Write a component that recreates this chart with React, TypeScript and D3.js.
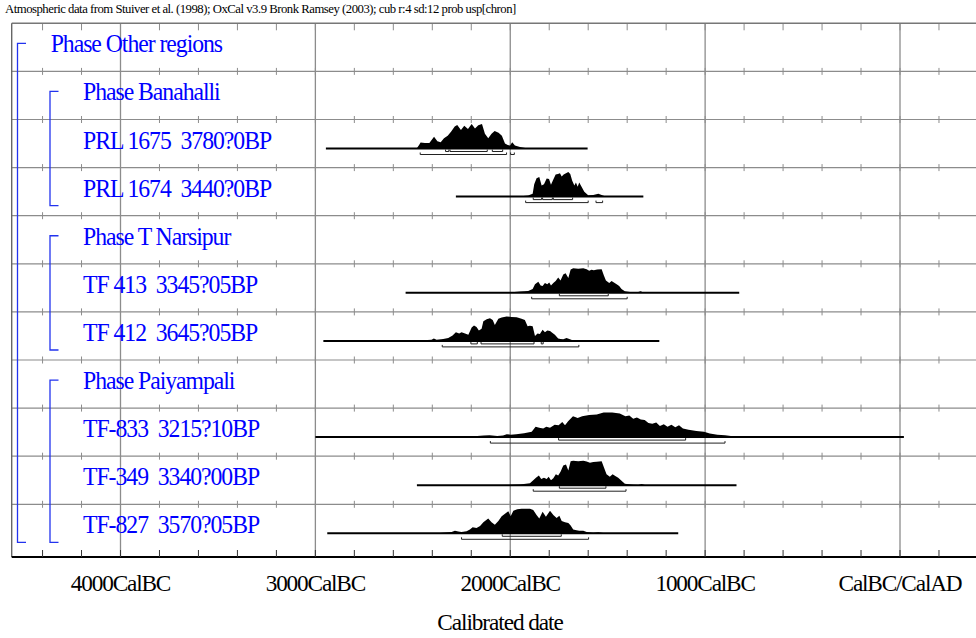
import React, { useEffect, useRef } from 'react';
import * as d3 from 'd3';

// rows of the plot, top to bottom
const rowLabels = [
  'Phase Other regions',
  'Phase Banahalli',
  'PRL 1675  3780?0BP',
  'PRL 1674  3440?0BP',
  'Phase T Narsipur',
  'TF 413  3345?05BP',
  'TF 412  3645?05BP',
  'Phase Paiyampali',
  'TF-833  3215?10BP',
  'TF-349  3340?00BP',
  'TF-827  3570?05BP',
];
const rowIndent = [0, 1, 1, 1, 1, 1, 1, 1, 1, 1, 1];

// phase brackets: first row, last row, nesting level
const phaseBrackets: [number, number, number][] = [
  [0, 10, 0],
  [1, 3, 1],
  [4, 6, 1],
  [7, 10, 1],
];

// years BC (negative = AD)
const majorTicks = [4000, 3000, 2000, 1000, 0];
const majorTickLabels = ['4000CalBC', '3000CalBC', '2000CalBC', '1000CalBC', 'CalBC/CalAD'];
const minorTicks = [4400, 4200, 4000, 3800, 3600, 3400, 3200, 3000, 2800, 2600, 2400, 2200, 2000,
  1800, 1600, 1400, 1200, 1000, 800, 600, 400, 200, 0, -200];

const headerText = 'Atmospheric data from Stuiver et al. (1998); OxCal v3.9 Bronk Ramsey (2003); cub r:4 sd:12 prob usp[chron]';
const xAxisTitle = 'Calibrated date';

// calibrated probability (year BC, relative height)
const prl1675Prob: [number, number][] = [
  [2480, 0], [2467, 0.15], [2460, 0.24], [2438, 0.22], [2415, 0.22], [2391, 0.48], [2374, 0.3],
  [2357, 0.26], [2340, 0.42], [2321, 0.52], [2304, 0.68], [2285, 0.9], [2272, 0.96], [2253, 0.76],
  [2236, 0.93], [2217, 0.8], [2198, 1], [2181, 0.82], [2164, 0.95], [2145, 1], [2130, 0.6],
  [2113, 0.42], [2096, 0.6], [2080, 0.71], [2060, 0.64], [2043, 0.52], [2027, 0.2], [2013, 0.14],
  [2001, 0.12], [1990, 0.26], [1976, 0.12], [1950, 0.06], [1916, 0.01], [1882, 0],
];
const prl1674Prob: [number, number][] = [
  [1967, 0], [1933, 0.02], [1908, 0.05], [1885, 0.12], [1877, 0.5], [1865, 0.75], [1851, 0.8],
  [1839, 0.45], [1827, 0.5], [1813, 0.74], [1801, 0.72], [1791, 0.48], [1779, 0.7], [1767, 0.9],
  [1755, 0.92], [1745, 0.95], [1736, 0.82], [1726, 0.9], [1714, 0.95], [1702, 1], [1692, 0.92],
  [1682, 0.65], [1671, 0.45], [1663, 0.58], [1654, 0.4], [1646, 0.58], [1634, 0.4], [1620, 0.2],
  [1600, 0.06], [1574, 0.07], [1548, 0.12], [1531, 0.07], [1514, 0.01], [1497, 0],
];
const tf413Prob: [number, number][] = [
  [2019, 0], [1993, 0.02], [1950, 0.05], [1908, 0.07], [1885, 0.15], [1873, 0.35], [1856, 0.45],
  [1844, 0.3], [1834, 0.28], [1822, 0.4], [1810, 0.35], [1800, 0.42], [1791, 0.3], [1779, 0.4],
  [1767, 0.48], [1754, 0.62], [1742, 0.5], [1728, 0.75], [1716, 0.8], [1702, 0.6], [1690, 0.95],
  [1677, 1], [1651, 0.98], [1625, 1], [1608, 0.96], [1595, 0.9], [1583, 0.94], [1571, 0.92],
  [1554, 0.95], [1531, 0.96], [1519, 0.7], [1509, 0.5], [1492, 0.4], [1480, 0.48], [1468, 0.42],
  [1454, 0.35], [1441, 0.28], [1429, 0.15], [1412, 0.06], [1377, 0.02], [1352, 0.01], [1331, 0.06],
  [1317, 0.01], [1292, 0],
];
const tf412Prob: [number, number][] = [
  [2480, 0], [2446, 0.03], [2404, 0.05], [2392, 0.1], [2378, 0.05], [2344, 0.08], [2318, 0.12],
  [2296, 0.22], [2279, 0.35], [2262, 0.3], [2250, 0.35], [2232, 0.3], [2215, 0.25], [2198, 0.55],
  [2186, 0.63], [2173, 0.57], [2161, 0.42], [2147, 0.5], [2138, 0.8], [2121, 0.88], [2104, 0.92],
  [2090, 0.85], [2079, 0.65], [2061, 0.9], [2044, 0.95], [2019, 1], [1993, 0.98], [1967, 0.97],
  [1942, 0.9], [1925, 0.85], [1911, 0.6], [1899, 0.62], [1885, 0.6], [1873, 0.2], [1860, 0.3],
  [1848, 0.28], [1834, 0.45], [1822, 0.35], [1810, 0.42], [1796, 0.4], [1783, 0.32], [1771, 0.25],
  [1754, 0.1], [1742, 0.08], [1728, 0.07], [1711, 0.12], [1697, 0.08], [1677, 0.02], [1642, 0],
];
const tf833Prob: [number, number][] = [
  [2440, 0], [2283, 0.01], [2204, 0.02], [2136, 0.07], [2106, 0.08], [2067, 0.05], [2037, 0.07],
  [2018, 0.12], [1998, 0.1], [1969, 0.12], [1929, 0.16], [1890, 0.22], [1870, 0.42], [1851, 0.38],
  [1831, 0.35], [1815, 0.42], [1796, 0.38], [1772, 0.5], [1752, 0.48], [1733, 0.62], [1719, 0.48],
  [1703, 0.65], [1678, 0.85], [1654, 0.78], [1631, 0.85], [1595, 0.9], [1556, 0.92], [1521, 1],
  [1477, 1], [1438, 0.96], [1409, 0.85], [1389, 0.88], [1369, 0.75], [1350, 0.8], [1330, 0.72],
  [1310, 0.7], [1291, 0.58], [1271, 0.55], [1251, 0.6], [1232, 0.45], [1212, 0.52], [1193, 0.42],
  [1173, 0.5], [1153, 0.4], [1134, 0.48], [1114, 0.35], [1085, 0.3], [1045, 0.25], [1006, 0.22],
  [976, 0.15], [937, 0.1], [898, 0.08], [868, 0.05], [829, 0.02], [770, 0],
];
const tf349Prob: [number, number][] = [
  [2019, 0], [1950, 0.03], [1899, 0.08], [1882, 0.2], [1868, 0.3], [1853, 0.4], [1841, 0.25],
  [1827, 0.3], [1813, 0.25], [1803, 0.35], [1791, 0.2], [1779, 0.28], [1766, 0.45], [1754, 0.4],
  [1742, 0.55], [1728, 0.8], [1714, 0.85], [1702, 0.6], [1690, 0.98], [1677, 1], [1651, 0.98],
  [1625, 1], [1608, 0.97], [1591, 0.92], [1574, 0.95], [1557, 0.96], [1531, 0.98], [1519, 0.72],
  [1506, 0.45], [1489, 0.35], [1475, 0.45], [1461, 0.38], [1446, 0.3], [1429, 0.18], [1412, 0.06],
  [1369, 0.02], [1343, 0.01], [1326, 0.05], [1309, 0.01], [1283, 0],
];
const tf827Prob: [number, number][] = [
  [2412, 0], [2361, 0.01], [2301, 0.05], [2284, 0.1], [2267, 0.07], [2250, 0.05], [2224, 0.08],
  [2207, 0.15], [2193, 0.25], [2173, 0.22], [2155, 0.3], [2138, 0.45], [2113, 0.6], [2096, 0.45],
  [2079, 0.35], [2061, 0.5], [2044, 0.7], [2027, 0.8], [2010, 0.9], [1998, 0.7], [1984, 0.92],
  [1964, 0.98], [1942, 1], [1899, 1], [1882, 0.95], [1865, 0.75], [1851, 0.6], [1834, 0.88],
  [1817, 0.68], [1796, 0.92], [1779, 0.75], [1762, 0.62], [1748, 0.72], [1736, 0.5], [1719, 0.45],
  [1702, 0.42], [1690, 0.32], [1677, 0.15], [1660, 0.12], [1646, 0.1], [1625, 0.1], [1608, 0.05],
  [1574, 0.02], [1548, 0.04], [1523, 0.01], [1489, 0],
];

// plotted span of each date, and 68.2% / 95.4% ranges (year BC)
const prl1675Span: [number, number] = [2946, 1603];
const prl1675R68: [number, number][] = [[2332, 2315], [2309, 2118], [2092, 2039]];
const prl1675R95: [number, number][] = [[2462, 2019], [1998, 1979]];
const prl1674Span: [number, number] = [2279, 1317];
const prl1674R68: [number, number][] = [[1882, 1839], [1834, 1784], [1779, 1680]];
const prl1674R95: [number, number][] = [[1921, 1600], [1560, 1526]];
const tf413Span: [number, number] = [2537, 825];
const tf413R68: [number, number][] = [[1748, 1497]];
const tf413R95: [number, number][] = [[1890, 1400]];
const tf412Span: [number, number] = [2959, 1235];
const tf412R68: [number, number][] = [[2202, 2169], [2150, 1878], [1841, 1831]];
const tf412R95: [number, number][] = [[2349, 1648]];
const tf833Span: [number, number] = [3000, -20];
const tf833R68: [number, number][] = [[1752, 1100]];
const tf833R95: [number, number][] = [[2102, 898]];
const tf349Span: [number, number] = [2479, 839];
const tf349R68: [number, number][] = [[1748, 1509]];
const tf349R95: [number, number][] = [[1882, 1406]];
const tf827Span: [number, number] = [2939, 1138];
const tf827R68: [number, number][] = [[2041, 1738]];
const tf827R95: [number, number][] = [[2250, 1598]];

const dates = [
  { row: 2, prob: prl1675Prob, span: prl1675Span, r68: prl1675R68, r95: prl1675R95 },
  { row: 3, prob: prl1674Prob, span: prl1674Span, r68: prl1674R68, r95: prl1674R95 },
  { row: 5, prob: tf413Prob, span: tf413Span, r68: tf413R68, r95: tf413R95 },
  { row: 6, prob: tf412Prob, span: tf412Span, r68: tf412R68, r95: tf412R95 },
  { row: 8, prob: tf833Prob, span: tf833Span, r68: tf833R68, r95: tf833R95 },
  { row: 9, prob: tf349Prob, span: tf349Span, r68: tf349R68, r95: tf349R95 },
  { row: 10, prob: tf827Prob, span: tf827Span, r68: tf827R68, r95: tf827R95 },
];

const WIDTH = 976;
const HEIGHT = 638;
const FONT = '"Liberation Serif", "Times New Roman", serif';

const App: React.FC = () => {
  const svgRef = useRef<SVGSVGElement>(null);

  useEffect(() => {
    if (!svgRef.current) return;
    const svg = d3.select(svgRef.current);
    svg.selectAll('*').remove();

    const left = 11.7;
    const top = 23.3;
    const rowH = 48.1;
    const bottom = 557;
    const peakH = 24.5;
    const grid = '#8c8c8c';

    const x = d3.scaleLinear().domain([4000, 0]).range([120.5, 900]);
    const rowY = d3.scaleLinear().domain([0, 1]).range([top, top + rowH]);

    svg.append('rect').attr('width', WIDTH).attr('height', HEIGHT).attr('fill', '#fff');

    // header (the original font is a tight Times, so squeeze it a bit)
    svg.append('text')
      .attr('transform', 'translate(5,13) scale(0.98,1)')
      .attr('font-family', FONT)
      .attr('font-size', '13px')
      .attr('letter-spacing', '-0.5px')
      .text(headerText);

    // horizontal row lines
    const rowLines = d3.range(1, rowLabels.length);
    svg.append('g')
      .selectAll('line')
      .data(rowLines)
      .enter()
      .append('line')
      .attr('x1', left)
      .attr('x2', WIDTH)
      .attr('y1', (d) => rowY(d))
      .attr('y2', (d) => rowY(d))
      .attr('stroke', grid)
      .attr('stroke-width', 1.2);

    // small ticks on each row line
    const tickG = svg.append('g').attr('stroke', grid).attr('stroke-width', 1);
    rowLines.forEach((r) => {
      tickG.selectAll(null)
        .data(minorTicks)
        .enter()
        .append('line')
        .attr('x1', (d) => x(d))
        .attr('x2', (d) => x(d))
        .attr('y1', rowY(r) - 3.5)
        .attr('y2', rowY(r) + 3.5);
    });
    tickG.selectAll(null)
      .data(minorTicks)
      .enter()
      .append('line')
      .attr('x1', (d) => x(d))
      .attr('x2', (d) => x(d))
      .attr('y1', top)
      .attr('y2', top + 7);

    // major vertical lines
    svg.append('g')
      .selectAll('line')
      .data(majorTicks)
      .enter()
      .append('line')
      .attr('x1', (d) => x(d))
      .attr('x2', (d) => x(d))
      .attr('y1', top)
      .attr('y2', bottom)
      .attr('stroke', grid)
      .attr('stroke-width', 1.3);

    // frame: top and left
    svg.append('line')
      .attr('x1', left).attr('x2', WIDTH).attr('y1', top).attr('y2', top)
      .attr('stroke', '#777').attr('stroke-width', 1.4);
    svg.append('line')
      .attr('x1', left).attr('x2', left).attr('y1', top).attr('y2', bottom)
      .attr('stroke', '#666').attr('stroke-width', 1.4);

    // distributions
    const area = d3.area<[number, number]>()
      .x((d) => x(d[0]))
      .y0(0)
      .y1((d) => -d[1] * peakH)
      .curve(d3.curveLinear);

    dates.forEach((dt) => {
      const base = rowY(dt.row) + 29;
      const g = svg.append('g').attr('transform', `translate(0,${base})`);
      g.append('path').datum(dt.prob).attr('d', area).attr('fill', '#000');
      g.append('line')
        .attr('x1', x(dt.span[0]))
        .attr('x2', x(dt.span[1]))
        .attr('y1', 0)
        .attr('y2', 0)
        .attr('stroke', '#000')
        .attr('stroke-width', 2);
      const bracket = (rs: [number, number][], dy: number) => {
        g.selectAll(null)
          .data(rs)
          .enter()
          .append('path')
          .attr('d', (d) => `M${x(d[0])},${dy - 2}V${dy}H${x(d[1])}V${dy - 2}`)
          .attr('fill', 'none')
          .attr('stroke', '#222')
          .attr('stroke-width', 1);
      };
      bracket(dt.r68, 3);
      bracket(dt.r95, 6);
    });

    // bottom axis
    svg.append('line')
      .attr('x1', left).attr('x2', WIDTH).attr('y1', bottom).attr('y2', bottom)
      .attr('stroke', '#000').attr('stroke-width', 2);
    svg.append('g')
      .selectAll('line')
      .data(minorTicks)
      .enter()
      .append('line')
      .attr('x1', (d) => x(d))
      .attr('x2', (d) => x(d))
      .attr('y1', bottom - 7)
      .attr('y2', bottom)
      .attr('stroke', '#333')
      .attr('stroke-width', 1);

    svg.append('g')
      .selectAll('text')
      .data(majorTicks)
      .enter()
      .append('text')
      .attr('transform', (d) => `translate(${x(d)},591) scale(0.97,1)`)
      .attr('text-anchor', 'middle')
      .attr('font-family', FONT)
      .attr('font-size', '24px')
      .attr('letter-spacing', '-1.2px')
      .text((d, i) => majorTickLabels[i]);

    svg.append('text')
      .attr('transform', 'translate(500,630) scale(0.97,1)')
      .attr('text-anchor', 'middle')
      .attr('font-family', FONT)
      .attr('font-size', '24px')
      .attr('letter-spacing', '-1.1px')
      .text(xAxisTitle);

    // phase brackets
    const bracketX = [17.5, 50];
    svg.append('g')
      .selectAll('path')
      .data(phaseBrackets)
      .enter()
      .append('path')
      .attr('d', (d) => {
        const bx = bracketX[d[2]];
        const y0 = rowY(d[0] + 0.5) - 4;
        const y1 = rowY(d[1] + 1) - 10;
        return `M${bx + 8.5},${y0}H${bx}V${y1}H${bx + 8.5}`;
      })
      .attr('fill', 'none')
      .attr('stroke', '#2233ee')
      .attr('stroke-width', 1.3);

    // row labels
    const labelX = [50.7, 83];
    svg.append('g')
      .selectAll('text')
      .data(rowLabels)
      .enter()
      .append('text')
      .attr('transform', (d, i) => `translate(${labelX[rowIndent[i]]},${rowY(i) + 29}) scale(0.95,1)`)
      .attr('font-family', FONT)
      .attr('font-size', '25px')
      .attr('letter-spacing', '-1.1px')
      .attr('fill', '#0000ff')
      .style('white-space', 'pre')
      .text((d) => d);
  }, []);

  return (
    <svg
      ref={svgRef}
      width={WIDTH}
      height={HEIGHT}
      style={{ position: 'absolute', left: 0, top: 0 }}
    />
  );
};

export default App;
